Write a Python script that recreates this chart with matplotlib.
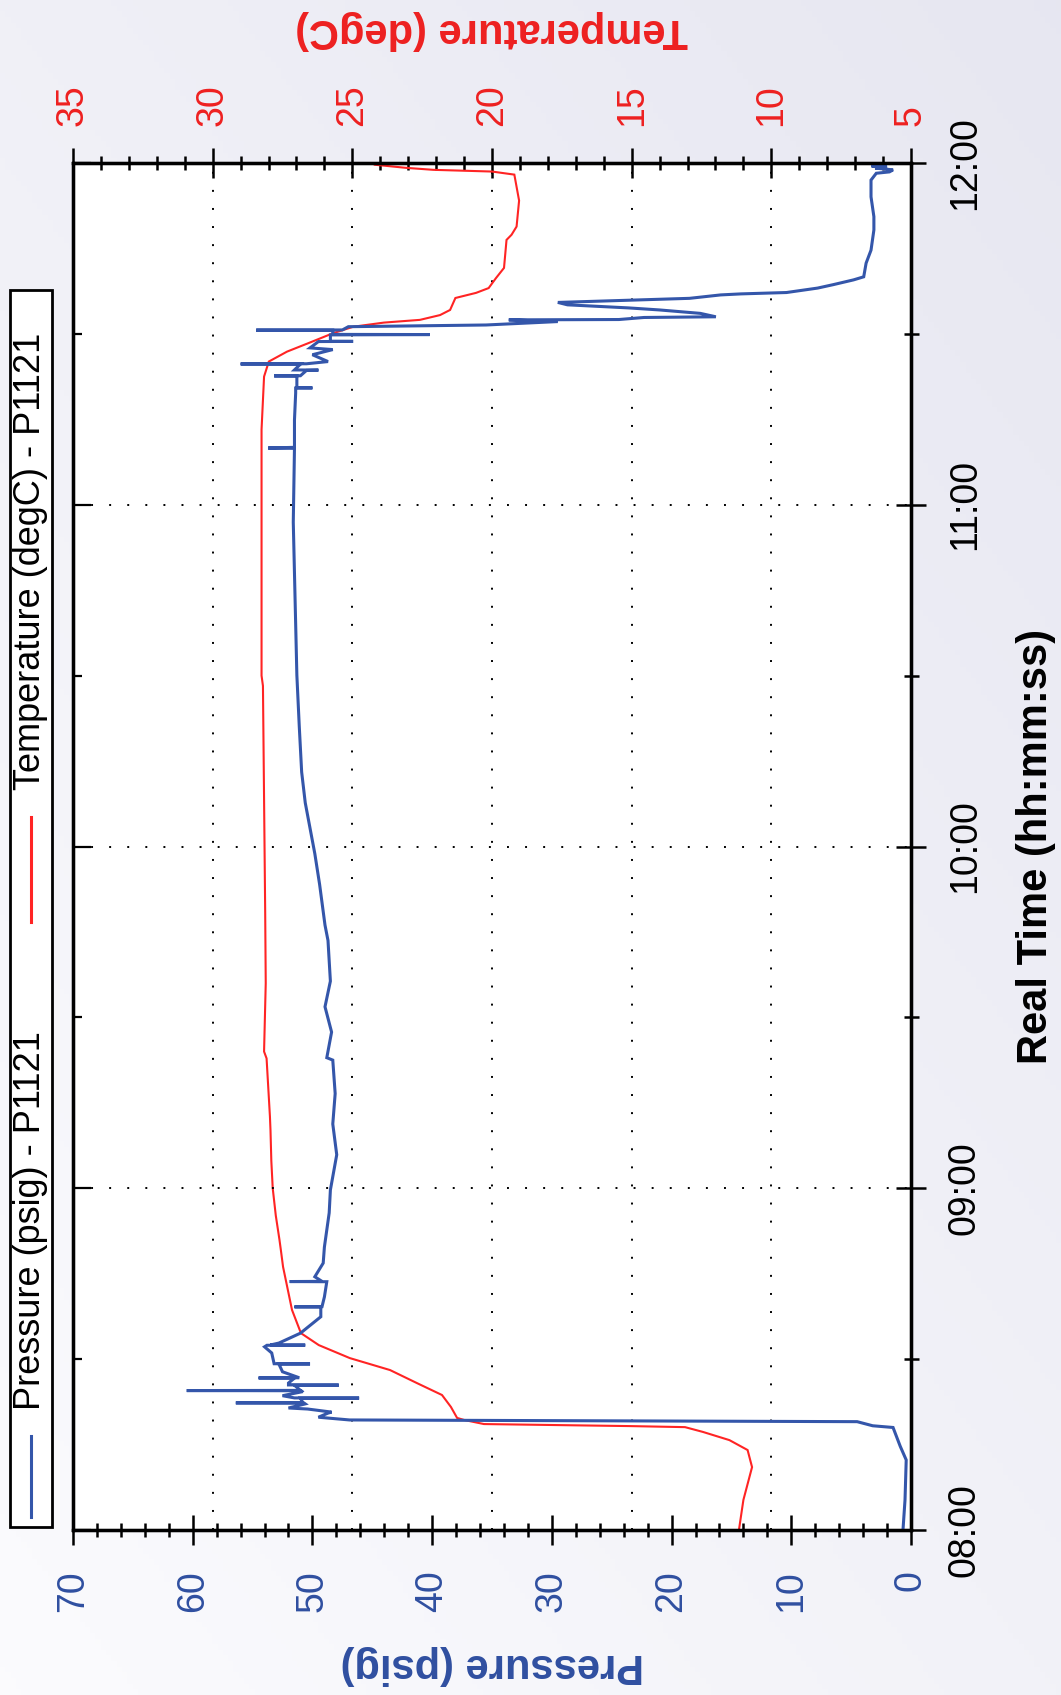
import numpy as np
import matplotlib
matplotlib.use('Agg')
import matplotlib.pyplot as plt
from matplotlib.ticker import MultipleLocator, FuncFormatter
from matplotlib.patches import Rectangle
from matplotlib.lines import Line2D

plt.rcParams['font.family'] = ['Liberation Sans', 'DejaVu Sans']

# ---------------- data (time in decimal hours) ----------------
pressure_time = [8.0, 8.088, 8.205, 8.245, 8.30, 8.305, 8.317, 8.322, 8.33, 8.342, 8.345,
                 8.354, 8.357, 8.369, 8.3715, 8.372, 8.3725, 8.3855, 8.386, 8.3865,
                 8.393, 8.405, 8.4075, 8.408, 8.4085, 8.4235, 8.424, 8.4245, 8.43,
                 8.4445, 8.445, 8.4455, 8.463, 8.4855, 8.486, 8.4865, 8.518, 8.536,
                 8.5405, 8.541, 8.5415, 8.547, 8.576, 8.624, 8.6525, 8.653, 8.6535,
                 8.682, 8.7265, 8.727, 8.7275, 8.741, 8.781,
                 8.828, 8.928, 8.995, 9.098, 9.188, 9.277, 9.375, 9.382, 9.457, 9.531,
                 9.606, 9.725, 9.770, 9.889, 9.979, 10.053, 10.128, 10.218, 10.352,
                 10.501, 10.651, 10.800, 10.949, 11.165, 11.166, 11.168, 11.248, 11.327,
                 11.3415, 11.342, 11.3425, 11.356, 11.3765, 11.377, 11.3775, 11.393,
                 11.394, 11.3945, 11.4115, 11.412, 11.4125, 11.419, 11.439, 11.454,
                 11.459, 11.4775, 11.478, 11.4785, 11.497, 11.498, 11.4985, 11.503,
                 11.5105, 11.511, 11.5115, 11.521, 11.526, 11.536,
                 11.541, 11.542, 11.548, 11.55, 11.56, 11.57, 11.576, 11.585, 11.592,
                 11.598, 11.604, 11.614, 11.617, 11.621, 11.634, 11.644, 11.658, 11.667,
                 11.707, 11.745, 11.804, 11.843, 11.901, 11.95, 11.97, 11.974, 11.98,
                 11.985, 11.989, 11.991, 11.995, 12.0]
pressure_psig = [0.67, 0.5, 0.4, 0.9, 1.5, 3.2, 4.5, 46.9, 49.5, 48.7, 48.4,
                 50.4, 52.0, 50.6, 50.7, 56.4, 50.8, 51.0, 46.1, 51.5,
                 52.5, 50.8, 51.0, 60.5, 51.0, 51.5, 47.8, 52.0, 52.0,
                 51.5, 54.5, 51.1, 52.5, 52.8, 50.2, 53.2, 53.4, 54.0,
                 53.8, 50.6, 53.5, 52.8, 51.0, 49.3, 49.3, 51.5, 49.2,
                 49.0, 48.8, 51.9, 49.2, 49.8, 49.1,
                 49.0, 48.6, 48.5, 47.97, 48.3, 48.1, 48.3, 48.8, 48.4, 48.95,
                 48.5, 48.7, 48.95, 49.4, 49.8, 50.2, 50.6, 50.9, 51.1,
                 51.3, 51.4, 51.5, 51.6, 51.5, 53.7, 51.5, 51.5, 51.4,
                 51.4, 50.0, 51.3, 51.3, 51.3, 53.2, 51.0, 50.5,
                 49.5, 51.5, 51.0, 56.0, 50.5, 48.7, 50.0, 48.3,
                 50.2, 49.5, 46.6, 48.5, 48.5, 40.2, 48.3, 48.3,
                 48.3, 54.7, 47.5, 47.0, 35.5, 29.5,
                 33.6, 24.4, 22.3, 16.3, 17.6, 21.0, 23.6, 28.7, 29.5,
                 24.0, 18.5, 15.9, 14.2, 10.4, 7.8, 6.5, 4.8, 3.95,
                 3.75, 3.34, 3.1, 3.1, 3.34, 3.34, 2.9, 1.8, 1.5,
                 3.0, 2.0, 3.3, 2.5, 3.0]

temp_time = [8.0, 8.088, 8.184, 8.234, 8.263, 8.287, 8.301, 8.304, 8.31, 8.322, 8.328,
             8.36, 8.395, 8.43, 8.468, 8.503, 8.541, 8.576, 8.644, 8.77, 8.82, 8.85,
             8.92, 9.0, 9.08, 9.17, 9.21, 9.38, 9.40, 9.60, 9.81, 10.47, 10.50, 11.22,
             11.375, 11.419, 11.448, 11.472, 11.502, 11.521, 11.533, 11.541, 11.555,
             11.570, 11.605, 11.62, 11.634, 11.663, 11.693, 11.775, 11.79, 11.814,
             11.89, 11.966, 11.975, 11.98, 11.986, 11.995, 12.0]
temp_degc = [11.16, 11.0, 10.69, 10.85, 11.5, 12.45, 13.09, 15.03, 20.29, 21.0, 21.25,
             21.47, 21.79, 22.69, 23.65, 25.09, 26.2, 26.84, 27.16, 27.48, 27.56, 27.61,
             27.74, 27.85, 27.9, 27.93, 27.95, 28.07, 28.16, 28.1, 28.12, 28.2, 28.25, 28.25,
             28.16, 27.99, 27.34, 26.6, 25.69, 24.96, 23.87, 22.58, 21.86,
             21.5, 21.31, 20.57, 20.12, 19.86, 19.57, 19.48, 19.3, 19.12,
             19.03, 19.2, 20.0, 22.1, 23.1, 24.2, 24.3]

pressure_label = "Pressure (psig)"
temp_label = "Temperature (degC)"
time_label = "Real Time (hh:mm:ss)"
legend_labels = ["Pressure (psig) - P1121", "Temperature (degC) - P1121"]

# ---------------- styling ----------------
BLUE = '#3456AA'
BLUE_TXT = '#2F4FA0'
RED = '#FF2424'
RED_TXT = '#EE2020'

W, H = 1061, 1695
fig = plt.figure(figsize=(W / 100, H / 100), dpi=100)


def fx(px):
    return px / W


def fy(py):
    return 1 - py / H


# background gradient
bg = fig.add_axes([0, 0, 1, 1], zorder=-10)
gx = np.linspace(0, 1, 200)
gy = np.linspace(0, 1, 300)
X, Y = np.meshgrid(gx, gy)
s = 0.45 * X + 0.55 * Y
c0 = np.array([0.985, 0.985, 0.995])
c1 = np.array([0.905, 0.905, 0.945])
img = c0 + (c1 - c0) * s[..., None]
bg.imshow(img, origin='lower', extent=[0, 1, 0, 1], aspect='auto')
bg.axis('off')

L, R, T, B = 73, 911, 163, 1530
ax = fig.add_axes([fx(L), fy(B), (R - L) / W, (B - T) / H])
ax2 = ax.twiny()
ax3 = ax.twinx()

# z-order: ax2 (white background, temp) below ax (pressure)
ax2.set_zorder(1)
ax.set_zorder(2)
ax3.set_zorder(3)
ax2.patch.set_visible(True)
ax2.patch.set_facecolor('white')
ax.patch.set_visible(False)

ax.set_xlim(70, 0)
ax2.set_xlim(35, 5)
ax.set_ylim(8, 12)
ax3.set_ylim(8, 12)

# data
ax2.plot(temp_degc, temp_time, color=RED, lw=1.5, solid_joinstyle='miter')
ax.plot(pressure_psig, pressure_time, color=BLUE, lw=2.2, solid_joinstyle='miter')

# spines
for a in (ax, ax2, ax3):
    for sp in a.spines.values():
        sp.set_linewidth(2.3)
        sp.set_color('black')

TS = 27
# pressure axis (bottom)
ax.xaxis.set_major_locator(MultipleLocator(10))
ax.xaxis.set_minor_locator(MultipleLocator(2))
ax.tick_params(axis='x', which='major', direction='inout', length=21.6, width=1.8,
               bottom=True, top=False, labelbottom=True, labeltop=False,
               labelsize=TS, labelcolor=BLUE_TXT, labelrotation=90, pad=18)
ax.tick_params(axis='x', which='minor', direction='inout', length=10.5, width=1.8,
               bottom=True, top=False)

# time axis (right)
ax.yaxis.tick_right()
ax.yaxis.set_major_locator(MultipleLocator(1))
ax.yaxis.set_minor_locator(MultipleLocator(0.5))
ax.yaxis.set_major_formatter(FuncFormatter(lambda v, p: f"{int(round(v)):02d}:00"))
ax.tick_params(axis='y', which='major', direction='inout', length=21.6, width=1.8,
               left=False, right=True, labelleft=False, labelright=True,
               labelsize=TS, labelcolor='black', labelrotation=90, pad=15)
ax.tick_params(axis='y', which='minor', direction='inout', length=10.8, width=1.8,
               left=False, right=True)
for lbl in ax.get_yticklabels():
    lbl.set_va('center')

# left ticks (inward)
ax3.yaxis.tick_left()
ax3.yaxis.set_major_locator(MultipleLocator(1))
ax3.yaxis.set_minor_locator(MultipleLocator(0.5))
ax3.tick_params(axis='y', which='major', direction='in', length=13, width=1.6,
                left=True, right=False, labelleft=False, labelright=False)
ax3.tick_params(axis='y', which='minor', direction='in', length=6.5, width=1.6,
                left=True, right=False)

# temperature axis (top)
ax2.xaxis.set_major_locator(MultipleLocator(5))
ax2.xaxis.set_minor_locator(MultipleLocator(1))
ax2.tick_params(axis='x', which='major', direction='inout', length=21.6, width=1.8,
                top=True, bottom=False, labeltop=True, labelbottom=False,
                labelsize=TS, labelcolor=RED_TXT, labelrotation=90, pad=16)
ax2.tick_params(axis='x', which='minor', direction='inout', length=10.5, width=1.8,
                top=True, bottom=False)

# grids
DOT = (0, (1, 8.3))
ax2.xaxis.grid(True, which='major', color='black', linestyle=DOT, linewidth=1.4)
ax.yaxis.grid(True, which='major', color='black', linestyle=DOT, linewidth=1.4)

# axis titles
fig.text(fx(492), fy(30), temp_label, rotation=180, ha='center', va='center',
         fontsize=30, fontweight='bold', color=RED_TXT)
fig.text(fx(492), fy(1665), pressure_label, rotation=180, ha='center', va='center',
         fontsize=30, fontweight='bold', color=BLUE_TXT)
fig.text(fx(1036), fy(846), time_label, rotation=90, ha='center', va='center',
         fontsize=30, fontweight='bold', color='black')

# legend (manual, rotated)
fig.patches.append(Rectangle((fx(10), fy(1527)), (52 - 10) / W, (1527 - 290) / H,
                             transform=fig.transFigure, facecolor='white',
                             edgecolor='black', lw=2.0, zorder=5))
fig.lines.append(Line2D([fx(31), fx(31)], [fy(1517), fy(1436)], transform=fig.transFigure,
                        color=BLUE, lw=2.2, zorder=6))
fig.text(fx(31), fy(1410), legend_labels[0], rotation=90, ha='center', va='bottom',
         fontsize=26, color='black', zorder=6)
fig.lines.append(Line2D([fx(31), fx(31)], [fy(922), fy(817)], transform=fig.transFigure,
                        color=RED, lw=2.2, zorder=6))
fig.text(fx(31), fy(790), legend_labels[1], rotation=90, ha='center', va='bottom',
         fontsize=26, color='black', zorder=6)

fig.savefig('out.png', dpi=100)
